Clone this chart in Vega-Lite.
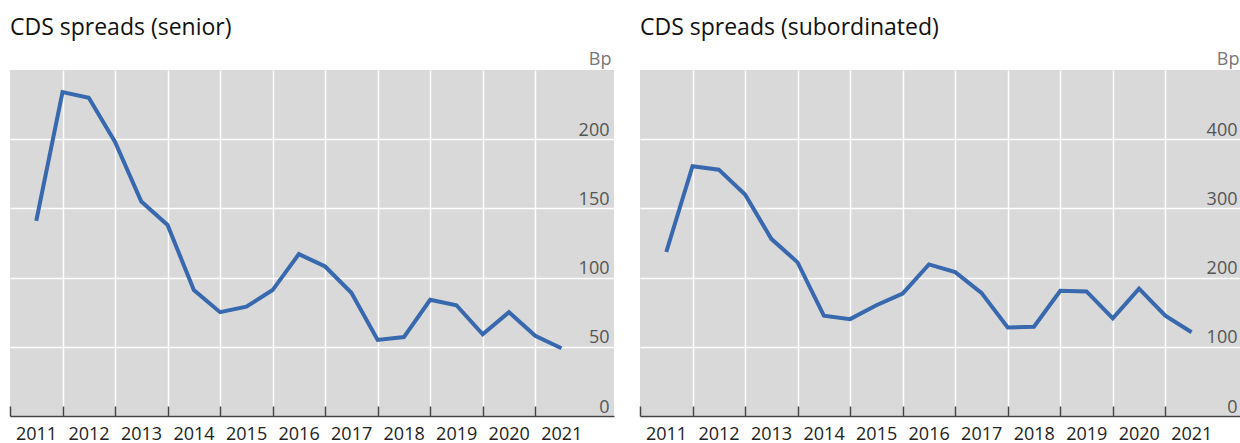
{
  "$schema": "https://vega.github.io/schema/vega-lite/v6.json",
  "padding": {"left": 9, "top": 17, "right": 0, "bottom": 0},
  "spacing": 26,
  "bounds": "flush",
  "background": "white",
  "config": {
    "font": "Open Sans",
    "view": {"fill": "#d9d9d9", "stroke": null},
    "title": {"fontSize": 23, "fontWeight": "normal", "color": "#111111", "anchor": "start", "frame": "group", "baseline": "alphabetic", "offset": 10},
    "axis": {"labelFont": "Open Sans", "titleFont": "Open Sans"}
  },
  "data": {"values": [
    {"t": 2011.5, "senior": 141, "sub": 237},
    {"t": 2012.0, "senior": 234, "sub": 361},
    {"t": 2012.5, "senior": 230, "sub": 356},
    {"t": 2013.0, "senior": 198, "sub": 320},
    {"t": 2013.5, "senior": 155, "sub": 256},
    {"t": 2014.0, "senior": 138, "sub": 222},
    {"t": 2014.5, "senior": 91, "sub": 145},
    {"t": 2015.0, "senior": 75, "sub": 140},
    {"t": 2015.5, "senior": 79, "sub": 160},
    {"t": 2016.0, "senior": 91, "sub": 177},
    {"t": 2016.5, "senior": 117, "sub": 219},
    {"t": 2017.0, "senior": 108, "sub": 208},
    {"t": 2017.5, "senior": 89, "sub": 178},
    {"t": 2018.0, "senior": 55, "sub": 128},
    {"t": 2018.5, "senior": 57, "sub": 129},
    {"t": 2019.0, "senior": 84, "sub": 181},
    {"t": 2019.5, "senior": 80, "sub": 180},
    {"t": 2020.0, "senior": 59, "sub": 141},
    {"t": 2020.5, "senior": 75, "sub": 184},
    {"t": 2021.0, "senior": 58, "sub": 145},
    {"t": 2021.5, "senior": 49, "sub": 121}
  ]},
  "hconcat": [
    {
      "title": "CDS spreads (senior)",
      "width": 604,
      "height": 346,
      "mark": {"type": "line", "color": "#3868ad", "strokeWidth": 4, "strokeJoin": "miter", "strokeCap": "butt"},
      "encoding": {
        "x": {"field": "t", "type": "quantitative", "scale": {"domain": [2011, 2022.5], "nice": false, "zero": false},
          "axis": {"title": null, "values": [2011, 2012, 2013, 2014, 2015, 2016, 2017, 2018, 2019, 2020, 2021], "format": "d",
            "labelOffset": 26, "labelFontSize": 18, "labelColor": "#222222", "labelPadding": 19, "labelFlush": false, "labelOverlap": false,
            "grid": true, "gridColor": "white", "gridWidth": 1.5, "gridOpacity": {"condition": {"test": "datum.value == 2011", "value": 0}, "value": 1},
            "domainColor": "#444444", "domainWidth": 1.5, "ticks": true, "tickSize": -10, "tickColor": "#444444", "tickWidth": 1.5}},
        "y": {"field": "senior", "type": "quantitative", "scale": {"domain": [0, 250], "nice": false},
          "axis": {"orient": "right", "values": [0, 50, 100, 150, 200], "title": "Bp", "titleAngle": 0, "titleAlign": "right", "titleBaseline": "alphabetic",
            "titleX": -3, "titleY": -6, "titleFontSize": 18, "titleFontWeight": "normal", "titleColor": "#777777",
            "labelFontSize": 18, "labelColor": "#555555", "labelAlign": "right", "labelBaseline": "alphabetic", "labelOffset": -4, "labelPadding": -5,
            "ticks": false, "domain": false, "grid": true, "gridColor": "white", "gridWidth": 1.5}}
      }
    },
    {
      "title": "CDS spreads (subordinated)",
      "width": 602,
      "height": 346,
      "mark": {"type": "line", "color": "#3868ad", "strokeWidth": 4, "strokeJoin": "miter", "strokeCap": "butt"},
      "encoding": {
        "x": {"field": "t", "type": "quantitative", "scale": {"domain": [2011, 2022.46], "nice": false, "zero": false},
          "axis": {"title": null, "values": [2011, 2012, 2013, 2014, 2015, 2016, 2017, 2018, 2019, 2020, 2021], "format": "d",
            "labelOffset": 26, "labelFontSize": 18, "labelColor": "#222222", "labelPadding": 19, "labelFlush": false, "labelOverlap": false,
            "grid": true, "gridColor": "white", "gridWidth": 1.5, "gridOpacity": {"condition": {"test": "datum.value == 2011", "value": 0}, "value": 1},
            "domainColor": "#444444", "domainWidth": 1.5, "ticks": true, "tickSize": -10, "tickColor": "#444444", "tickWidth": 1.5}},
        "y": {"field": "sub", "type": "quantitative", "scale": {"domain": [0, 500], "nice": false},
          "axis": {"orient": "right", "values": [0, 100, 200, 300, 400], "title": "Bp", "titleAngle": 0, "titleAlign": "right", "titleBaseline": "alphabetic",
            "titleX": -3, "titleY": -6, "titleFontSize": 18, "titleFontWeight": "normal", "titleColor": "#777777",
            "labelFontSize": 18, "labelColor": "#555555", "labelAlign": "right", "labelBaseline": "alphabetic", "labelOffset": -4, "labelPadding": -5,
            "ticks": false, "domain": false, "grid": true, "gridColor": "white", "gridWidth": 1.5}}
      }
    }
  ]
}
